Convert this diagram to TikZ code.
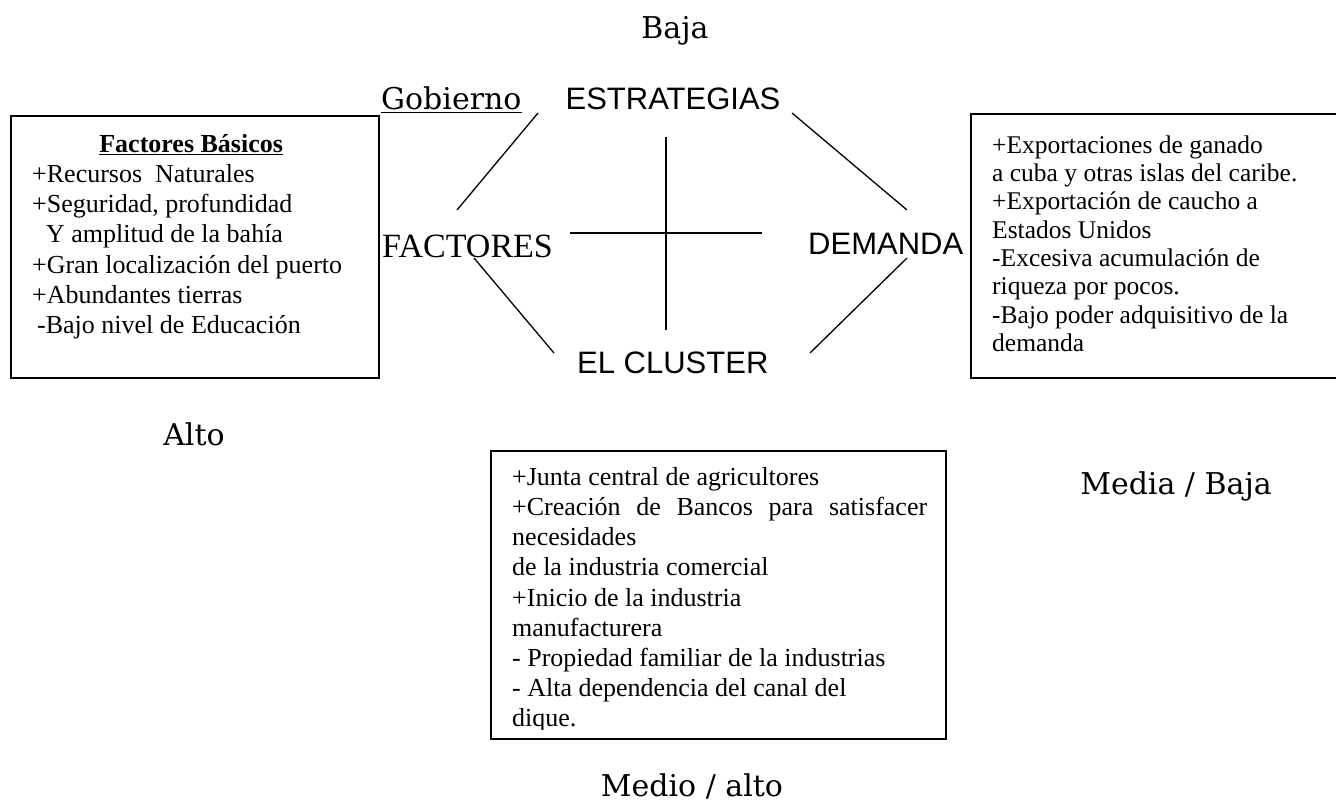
\documentclass[tikz,border=0pt]{standalone}
\usepackage{fontspec}
\setmainfont{Liberation Serif}
\newfontfamily\dvs{DejaVu Serif}
\newfontfamily\ars{Liberation Sans}
\begin{document}
\begin{tikzpicture}[x=1pt,y=-1pt,
  boxstyle/.style={draw, line width=1.8pt, inner sep=0pt, anchor=north west},
  conn/.style={line width=1.3pt},
  lbl/.style={inner sep=0pt, anchor=base, font=\dvs\fontsize{30}{36}\selectfont},
  axis/.style={inner sep=0pt, anchor=base west, font=\ars\fontsize{31}{37}\selectfont},
  body/.style={inner sep=0pt, anchor=north west, align=left}]
\useasboundingbox (0,0) rectangle (1336,808);
\clip (0,0) rectangle (1336,808);

% boxes
\node[boxstyle, minimum width=368pt, minimum height=262pt] (leftbox) at (10,115) {};
\node[boxstyle, minimum width=380pt, minimum height=264pt] (rightbox) at (970,113) {};
\node[boxstyle, minimum width=455pt, minimum height=288pt] (midbox) at (490,450) {};

% box texts
\node[body] (lefttext) at (32,130.86) {\fontsize{26}{30.2}\selectfont
\begin{tabular}{@{}l@{}}
\multicolumn{1}{@{}c@{}}{\hspace*{8pt}\textbf{\underline{Factores Básicos}}}\\
+Recursos~ Naturales\\
+Seguridad, profundidad\\
\hspace*{14pt}Y amplitud de la bahía\\
+Gran localización del puerto\\
+Abundantes tierras\\
\hspace*{5pt}-Bajo nivel de Educación
\end{tabular}};

\node[body] (righttext) at (992,133.19) {\fontsize{25.5}{28.3}\selectfont
\begin{tabular}{@{}l@{}}
+Exportaciones de ganado\\
a cuba y otras islas del caribe.\\
+Exportación de caucho a\\
Estados Unidos\\
-Excesiva acumulación de\\
riqueza por pocos.\\
-Bajo poder adquisitivo de la\\
demanda
\end{tabular}};

\begin{scope}
\clip (490,450) rectangle (945,729);
\node[body] (midtext) at (512,463.86) {\fontsize{26}{30.2}\selectfont
\begin{tabular}{@{}l@{}}
+Junta central de agricultores\\
\makebox[415pt][s]{+Creación de Bancos para satisfacer}\\
necesidades\\
de la industria comercial\\
+Inicio de la industria\\
manufacturera\\
- Propiedad familiar de la industrias\\
- Alta dependencia del canal del\\
dique.
\end{tabular}};
\end{scope}

% labels
\node[lbl] (baja) at (675,39) {Baja};
\node[lbl, anchor=base west] (gob) at (381,110) {\underline{Gobierno}};
\node[axis, anchor=base] (estr) at (673,110) {ESTRATEGIAS};
\node[inner sep=0pt, anchor=base west, font=\fontsize{34}{40}\selectfont] (fact) at (382,257) {FACTORES};
\node[axis] (dem) at (808,254) {DEMANDA};
\node[axis] (clus) at (577,373) {EL CLUSTER};
\node[lbl] (alto) at (194,445) {Alto};
\node[lbl] (mediabaja) at (1176,494) {Media / Baja};
\node[lbl] (medioalto) at (692,796) {Medio / alto};

% connector end points
\coordinate (ulA) at (538,113);
\coordinate (ulB) at (457,210);
\coordinate (urA) at (792,113);
\coordinate (urB) at (907,210);
\coordinate (llA) at (474,258);
\coordinate (llB) at (554,353);
\coordinate (lrA) at (907,258);
\coordinate (lrB) at (810,353);
\coordinate (hA) at (570,233);
\coordinate (hB) at (762,233);
\coordinate (vA) at (666,137);
\coordinate (vB) at (666,330);

\draw[conn] (ulA) -- (ulB);
\draw[conn] (urA) -- (urB);
\draw[conn] (llA) -- (llB);
\draw[conn] (lrA) -- (lrB);
\draw[conn] (hA) -- (hB);
\draw[conn] (vA) -- (vB);
\end{tikzpicture}
\end{document}
